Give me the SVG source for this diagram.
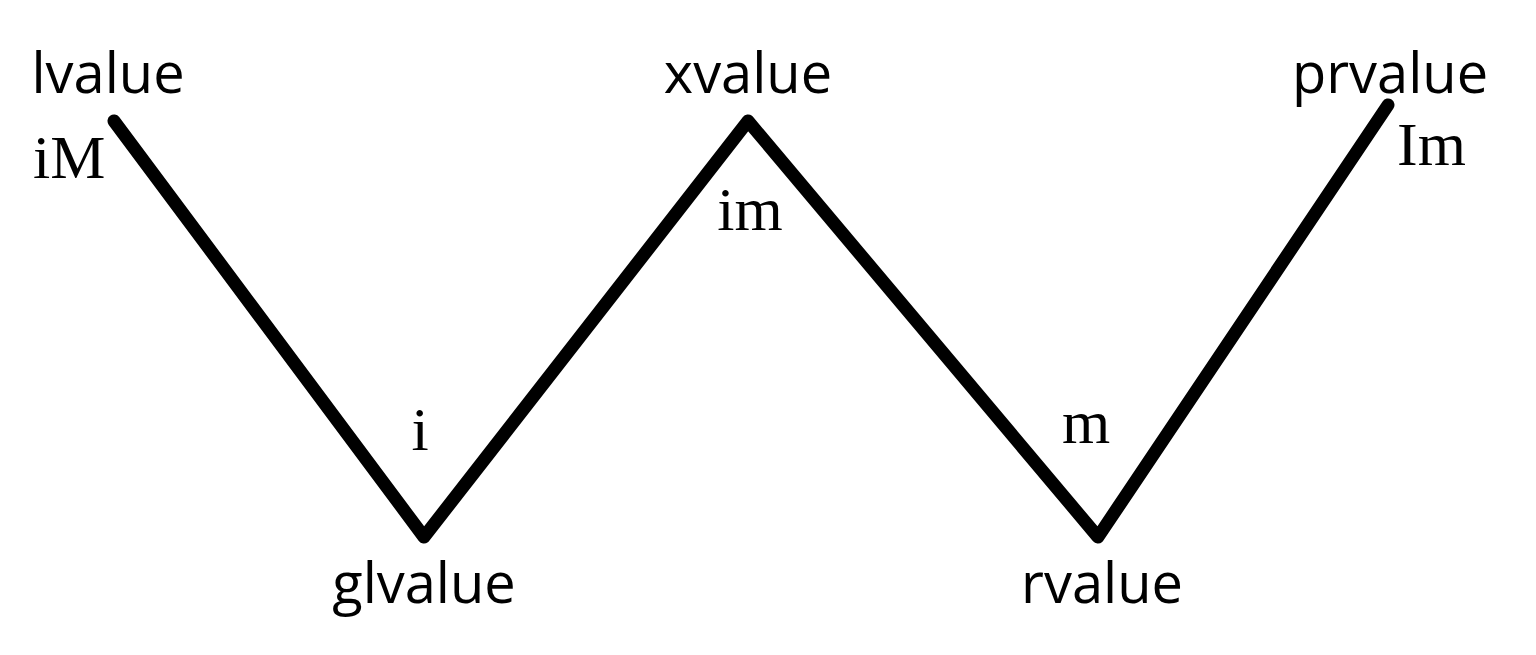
<svg xmlns="http://www.w3.org/2000/svg" width="1536" height="655" viewBox="0 0 1536 655">
<style>
.n{font-family:"Open Sans","Liberation Sans",sans-serif;font-size:56px;fill:#000}
.s{font-family:"Liberation Serif","DejaVu Serif",serif;font-size:62px;fill:#000}
.c{fill:none;stroke:#000;stroke-width:13;stroke-linecap:round;stroke-linejoin:round}
</style>
<rect width="1536" height="655" fill="#fff"/>
<g id="connectors">
<polyline class="c" points="114,121 424,537 748,121 1098,537 1388,105"/>
</g>
<g id="lvalue"><text class="n" x="108" y="93" text-anchor="middle">lvalue</text><text class="s" x="33" y="178">iM</text></g>
<g id="xvalue"><text class="n" x="748" y="93" text-anchor="middle">xvalue</text><text class="s" x="750" y="230" text-anchor="middle">im</text></g>
<g id="prvalue"><text class="n" x="1390" y="93" text-anchor="middle">prvalue</text><text class="s" x="1397" y="165">Im</text></g>
<g id="glvalue"><text class="n" x="424" y="603" text-anchor="middle">glvalue</text><text class="s" x="420" y="450" text-anchor="middle">i</text></g>
<g id="rvalue"><text class="n" x="1102" y="603" text-anchor="middle">rvalue</text><text class="s" x="1086" y="443" text-anchor="middle">m</text></g>
</svg>
